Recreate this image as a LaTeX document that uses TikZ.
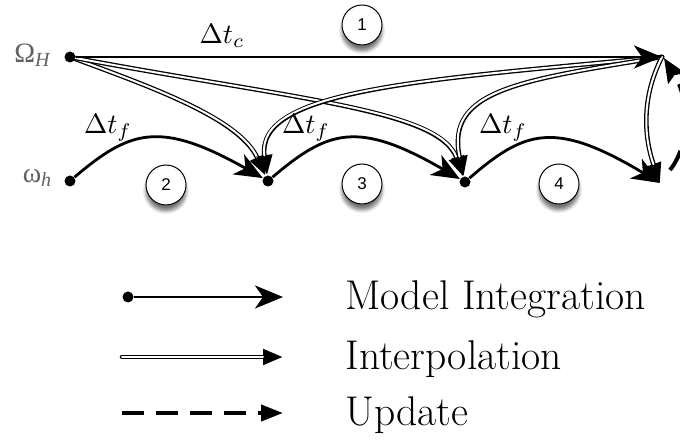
\documentclass[tikz,border=0pt]{standalone}
\usepackage{fontspec}
\newfontfamily\greekfont{Liberation Serif}
\newfontfamily\numfont{Liberation Sans}
\usetikzlibrary{arrows.meta,shadows.blur}

\begin{document}
\begin{tikzpicture}[x=0.5pt,y=-0.5pt,
  dot/.style={circle,fill=black,inner sep=0pt,minimum size=5.5pt},
  integ/.style={line width=1.4pt,-{Stealth[length=14pt,width=11.5pt,inset=4pt]}},
  % outlined line: a black stroke with a solid tip, then a white core on top
  interp/.style={draw=black,line width=2.3pt,line cap=round,
    -{Triangle[length=10pt,width=7.5pt]},
    postaction={draw=white,line width=1.0pt,line cap=round,shorten >=10pt,-}},
  upd/.style={line width=2pt,dash pattern=on 11pt off 6pt,-{Triangle[length=11pt,width=8pt]}},
  updtip/.style={line width=2pt,dash pattern=on 11pt off 6pt,-{Stealth[length=12pt,width=10pt,inset=2pt]}},
  stepnum/.style={circle,draw=black,line width=0.5pt,fill=white,minimum size=20pt,
    inner sep=0pt,font=\numfont\fontsize{8.5}{10}\selectfont,
    blur shadow={shadow xshift=0pt,shadow yshift=-3pt,shadow blur steps=6,shadow opacity=55}},
  dtlabel/.style={scale=1.4},
  varlabel/.style={text=black!62,font=\greekfont\fontsize{14}{16}\selectfont},
  legtext/.style={anchor=base west,inner sep=0pt,font=\fontsize{20.8}{25}\selectfont}]

\useasboundingbox (0,0) rectangle (680,448);
\clip (0,0) rectangle (680,448);

% grid points
\node[dot] (OH) at (70,57) {};
\node[dot] (wh) at (70,181) {};
\node[dot] (P1) at (268,181) {};
\node[dot] (P2) at (465,182) {};
\coordinate (TR) at (662,57);
\coordinate (P3) at (660,183);
\coordinate (U0) at (670,170);
\coordinate (U1) at (664,58);

% variable labels
\node[varlabel] (lOH) at (32,55) {Ω\raisebox{-0.3ex}{\fontsize{10}{11}\selectfont\itshape H}};
\node[varlabel] (lwh) at (37,178) {ω\raisebox{-0.3ex}{\fontsize{10}{11}\selectfont\itshape h}};

% interpolation
\draw[interp] (OH) .. controls (160,90) and (240,120) .. (P1);
\draw[interp] (OH) .. controls (300,100) and (440,110) .. (P2);
\draw[interp] (TR) .. controls (420,80) and (255,90) .. (P1);
\draw[interp] (TR) .. controls (520,80) and (445,90) .. (P2);
\draw[interp] (TR) .. controls (640,100) and (645,140) .. (P3);

% model integration
\draw[integ] (OH) -- (TR);
\draw[integ] (wh) .. controls (130,130) and (160,120) .. (P1);
\draw[integ] (P1) .. controls (328,130) and (358,120) .. (P2);
\draw[integ] (P2) .. controls (525,130) and (555,120) .. (P3);

% update
\draw[updtip] (U0) .. controls (690,145) and (690,100) .. (U1);

% time step labels
\node[dtlabel] (dtc) at (222,36) {$\Delta t_c$};
\node[dtlabel] (dtf1) at (108,128) {$\Delta t_f$};
\node[dtlabel] (dtf2) at (306,128) {$\Delta t_f$};
\node[dtlabel] (dtf3) at (503,128) {$\Delta t_f$};

% step numbers
\node[stepnum] (s1) at (362,25) {1};
\node[stepnum] (s2) at (166,185) {2};
\node[stepnum] (s3) at (362,184) {3};
\node[stepnum] (s4) at (559,184) {4};

% legend
\node[dot] (L1a) at (128,297) {};
\coordinate (L1b) at (283,297);
\draw[integ] (L1a) -- (L1b);
\node[legtext] (t1) at (345,310) {Model Integration};

\coordinate (L2a) at (122,357);
\coordinate (L2b) at (283,357);
\draw[interp] (L2a) -- (L2b);
\node[legtext] (t2) at (345,370) {Interpolation};

\coordinate (L3a) at (122,413);
\coordinate (L3b) at (283,413);
\draw[upd] (L3a) -- (L3b);
\node[legtext] (t3) at (345,426) {Update};
\end{tikzpicture}
\end{document}
